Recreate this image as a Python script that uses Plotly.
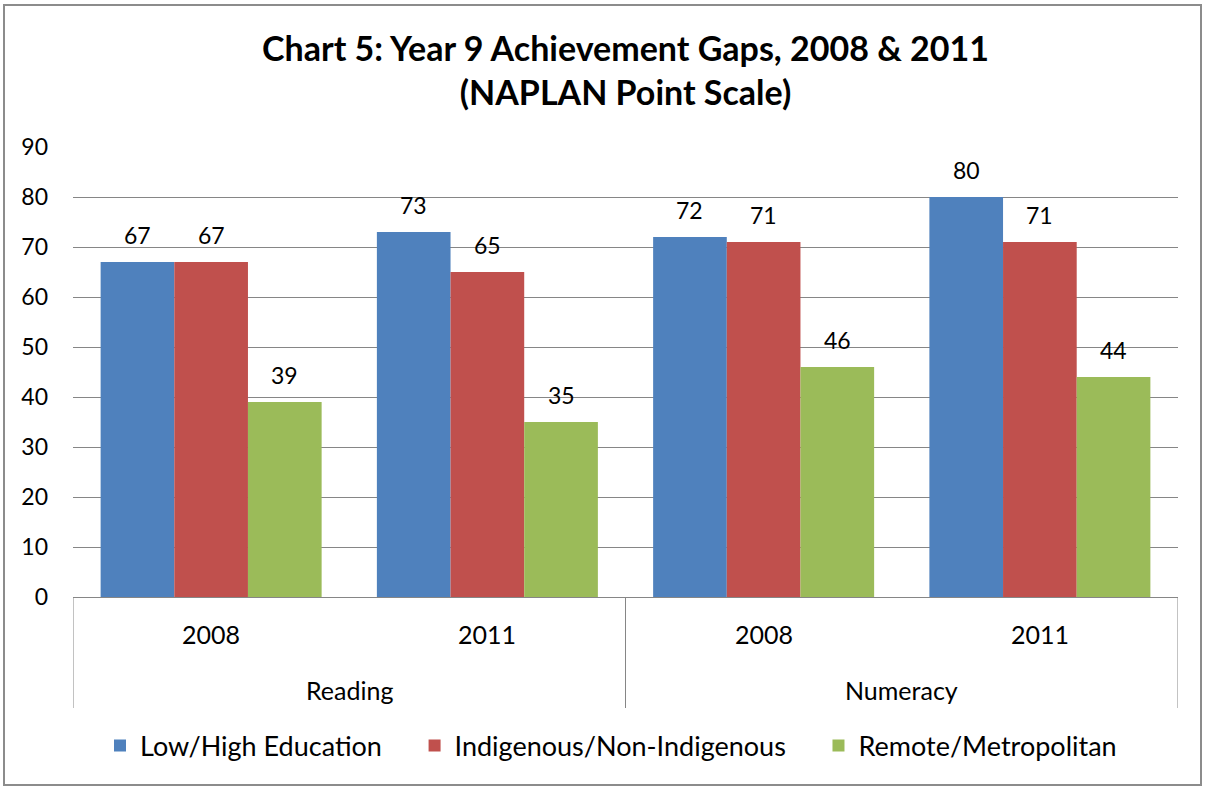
import plotly.graph_objects as go

subjects = ["Reading", "Reading", "Numeracy", "Numeracy"]
years = ["2008", "2011", "2008", "2011"]
series_names = ["Low/High Education", "Indigenous/Non-Indigenous", "Remote/Metropolitan"]
low_high = [67, 73, 72, 80]
indigenous = [67, 65, 71, 71]
remote = [39, 35, 46, 44]
colors = ["#4F81BD", "#C0504D", "#9BBB59"]
y_ticks = [0, 10, 20, 30, 40, 50, 60, 70, 80, 90]

FONT = "Lato"
W, H = 1207, 789
L, R, T, B = 73, 29, 147, 192
BARGAP = 0.2
GRID = "#868686"

categories = [f"{s} {y}" for s, y in zip(subjects, years)]
all_series = [low_high, indigenous, remote]

fig = go.Figure()
for j, (name, vals, col) in enumerate(zip(series_names, all_series, colors)):
    pad = "\u00a0" * 4 if j < len(series_names) - 1 else ""
    fig.add_trace(go.Bar(
        x=categories, y=vals, name=name + pad,
        marker=dict(color=col, line=dict(width=0)),
        hovertemplate=name + ": %{y}<extra></extra>",
    ))

pw = W - L - R
ph = H - T - B
def px_x(p):
    return (p - L) / pw
def px_y(p):
    return (H - B - p) / ph

annotations = []
n = len(all_series)
bw = (1 - BARGAP) / n
for k, vals in enumerate(all_series):
    for i, v in enumerate(vals):
        annotations.append(dict(
            x=i + (k - (n - 1) / 2) * bw, y=v, xref="x", yref="y",
            text=str(v), showarrow=False, yanchor="middle", yshift=27,
            font=dict(size=23, family=FONT, color="#000000"),
        ))
for i, yr in enumerate(years):
    annotations.append(dict(
        x=i, y=px_y(634), xref="x", yref="paper", text=yr, showarrow=False,
        yanchor="middle", font=dict(size=25, family=FONT, color="#000000"),
    ))
shapes = []
groups = []
for i, s in enumerate(subjects):
    if not groups or groups[-1][0] != s:
        groups.append([s, i, i])
    else:
        groups[-1][2] = i
for s, a, b in groups:
    annotations.append(dict(
        x=(a + b) / 2, y=px_y(690), xref="x", yref="paper", text=s, showarrow=False,
        yanchor="middle", font=dict(size=25, family=FONT, color="#000000"),
    ))
div_pos = sorted(set([g[1] - 0.5 for g in groups] + [g[2] + 0.5 for g in groups]))
for d in div_pos:
    shapes.append(dict(type="line", xref="x", yref="paper", x0=d, x1=d,
                       y0=0, y1=px_y(708), line=dict(color=GRID, width=1)))

shapes.append(dict(type="rect", xref="paper", yref="paper",
                   x0=px_x(4), x1=px_x(1201), y0=px_y(785), y1=px_y(5),
                   line=dict(color="#8C8C8C", width=2), fillcolor="rgba(0,0,0,0)", layer="below"))

fig.update_layout(
    width=W, height=H,
    margin=dict(l=L, r=R, t=T, b=B),
    paper_bgcolor="white", plot_bgcolor="white",
    font=dict(family=FONT, color="#000000"),
    barmode="group", bargap=BARGAP, bargroupgap=0,
    title=dict(
        text="Chart 5: Year 9 Achievement Gaps, 2008 &amp; 2011<br>(NAPLAN Point Scale)",
        x=0.5, xref="paper", xanchor="center",
        y=1 - 61 / H, yanchor="middle",
        font=dict(family=FONT, size=34, color="#000000", weight="bold"),
    ),
    yaxis=dict(
        range=[0, 90], tickvals=y_ticks, showgrid=True, gridcolor=GRID, gridwidth=1,
        zeroline=False, showline=False, ticks="",
        tickfont=dict(size=23, family=FONT), ticklabelstandoff=24,
    ),
    xaxis=dict(
        type="category", range=[-0.5, len(categories) - 0.5],
        showline=True, linecolor=GRID, linewidth=1,
        showticklabels=False, ticks="", showgrid=False,
    ),
    legend=dict(
        orientation="h", x=px_x(611), xanchor="center",
        y=px_y(746), yanchor="middle",
        font=dict(size=27, family=FONT), itemwidth=30,
        traceorder="normal",
    ),
    annotations=annotations,
    shapes=shapes,
    showlegend=True,
)

fig.write_html("out.html", config={"displayModeBar": False},
               post_script="document.body.style.margin='0px';")
